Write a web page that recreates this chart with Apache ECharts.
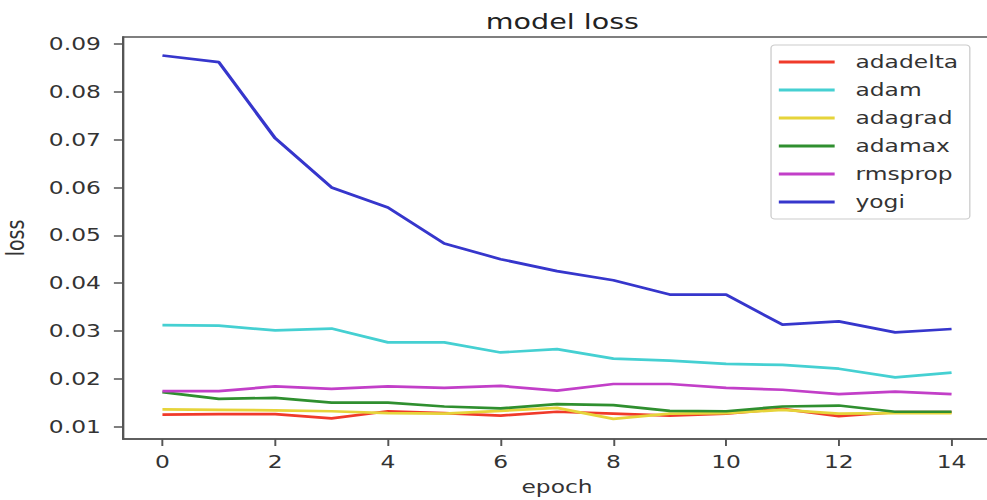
<!DOCTYPE html>
<html>
<head>
<meta charset="utf-8">
<script src="https://cdn.jsdelivr.net/npm/echarts@6/dist/echarts.min.js"></script>
<style>
html,body{margin:0;padding:0;background:#fff;overflow:hidden;}
#wrap{width:987px;height:500px;overflow:hidden;}
/* the reference is a horizontally stretched picture; reproduce that stretch */
#chart{width:760px;height:500px;transform:scaleX(1.29868);transform-origin:0 0;}
</style>
</head>
<body>
<div id="wrap"><div id="chart"></div></div>
<script>
const epochs = [0, 1, 2, 3, 4, 5, 6, 7, 8, 9, 10, 11, 12, 13, 14];
const adadelta = [0.0125, 0.0126, 0.0126, 0.0117, 0.0132, 0.0128, 0.0123, 0.0131, 0.0127, 0.0123, 0.0127, 0.0137, 0.0122, 0.0130, 0.0130];
const adam     = [0.0312, 0.0311, 0.0301, 0.0305, 0.0276, 0.0276, 0.0255, 0.0262, 0.0242, 0.0238, 0.0231, 0.0229, 0.0221, 0.0203, 0.0213];
const adagrad  = [0.0136, 0.0135, 0.0134, 0.0132, 0.0128, 0.0127, 0.0133, 0.0139, 0.0116, 0.0127, 0.0128, 0.0135, 0.0127, 0.0128, 0.0128];
const adamax   = [0.0172, 0.0158, 0.0160, 0.0150, 0.0150, 0.0142, 0.0138, 0.0147, 0.0145, 0.0133, 0.0132, 0.0142, 0.0144, 0.0131, 0.0131];
const rmsprop  = [0.0174, 0.0174, 0.0184, 0.0179, 0.0184, 0.0181, 0.0185, 0.0175, 0.0189, 0.0189, 0.0181, 0.0177, 0.0168, 0.0173, 0.0168];
const yogi     = [0.0876, 0.0862, 0.0703, 0.0600, 0.0558, 0.0483, 0.0450, 0.0425, 0.0406, 0.0376, 0.0376, 0.0313, 0.0320, 0.0297, 0.0304];
const xTicks = [0, 2, 4, 6, 8, 10, 12, 14];
const yTicks = [0.01, 0.02, 0.03, 0.04, 0.05, 0.06, 0.07, 0.08, 0.09];

const names = ['adadelta', 'adam', 'adagrad', 'adamax', 'rmsprop', 'yogi'];
const seriesData = [adadelta, adam, adagrad, adamax, rmsprop, yogi];
const colors = ['#f03a2a', '#45d0d2', '#e6d43a', '#2f8f2f', '#c23fc8', '#3636cc'];

const font = 'DejaVu Sans';
const chart = echarts.init(document.getElementById('chart'), null, {renderer: 'svg'});
chart.setOption({
  animation: false,
  backgroundColor: '#fff',
  color: colors,
  title: {
    text: 'model loss', left: 428, top: 5, textAlign: 'center',
    textStyle: {fontFamily: font, fontSize: 22, fontWeight: 'normal', color: '#222'}
  },
  grid: {left: 94.7, top: 37, width: 668.4, height: 402, containLabel: false, outerBoundsMode: 'none',
    show: true, borderColor: '#555', borderWidth: 1.5, backgroundColor: 'transparent'},
  legend: {
    orient: 'vertical', left: 593.7, top: 45,
    data: names,
    icon: 'rect', itemWidth: 43, itemHeight: 3, itemGap: 10,
    padding: [8, 9, 8, 6],
    backgroundColor: '#fff', borderColor: '#ccc', borderWidth: 1, borderRadius: 3,
    textStyle: {fontFamily: font, fontSize: 18, color: '#333', padding: [0, 0, 0, 11]}
  },
  xAxis: {
    type: 'value', min: -0.7, max: 14.7,
    name: 'epoch', nameLocation: 'middle', nameGap: 39,
    nameTextStyle: {fontFamily: font, fontSize: 18, color: '#333'},
    axisLine: {show: true, onZero: false, lineStyle: {color: '#555', width: 1.5}},
    axisTick: {show: true, length: 7, customValues: xTicks, lineStyle: {color: '#555', width: 1.5}},
    axisLabel: {customValues: xTicks, fontFamily: font, fontSize: 18, color: '#333', margin: 14},
    splitLine: {show: false}
  },
  yAxis: {
    type: 'value', min: 0.0074, max: 0.09147,
    name: 'loss', nameLocation: 'middle', nameGap: 73, nameRotate: 90,
    nameTextStyle: {fontFamily: font, fontSize: 19, color: '#333'},
    axisLine: {show: true, onZero: false, lineStyle: {color: '#555', width: 1.5}},
    axisTick: {show: true, length: 7, customValues: yTicks, lineStyle: {color: '#555', width: 1.5}},
    axisLabel: {customValues: yTicks, fontFamily: font, fontSize: 18, color: '#333', margin: 17,
      formatter: v => v.toFixed(2)},
    splitLine: {show: false}
  },
  series: names.map((n, i) => ({
    name: n, type: 'line', symbol: 'none',
    data: epochs.map((e, j) => [e, seriesData[i][j]]),
    lineStyle: {width: 2.7, color: colors[i]},
    itemStyle: {color: colors[i]}
  }))
});
</script>
</body>
</html>
